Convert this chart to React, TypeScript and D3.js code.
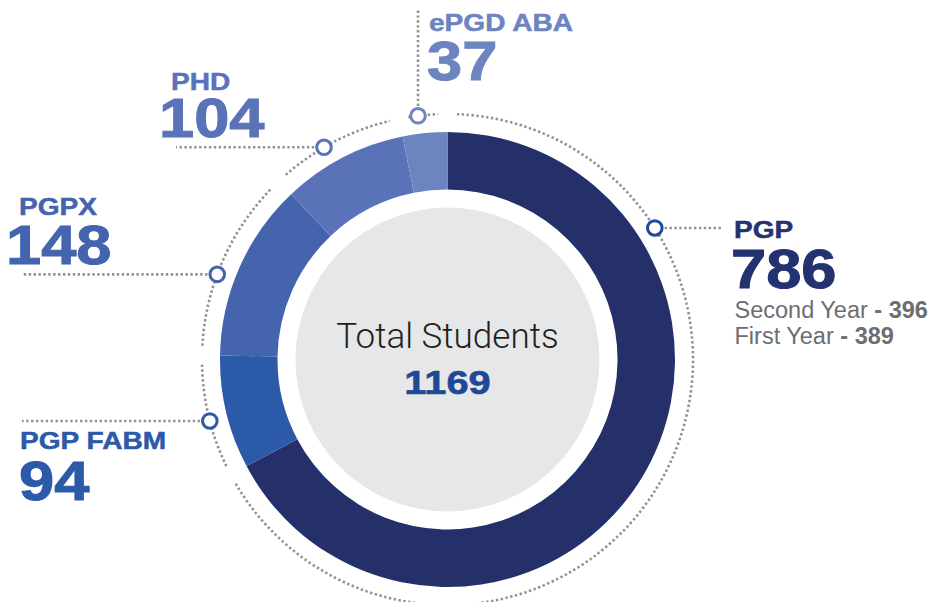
import React from "react";
import * as d3 from "d3";

// programme enrolment, in order round the ring clockwise from 12 o'clock
const categories = ["PGP", "PGP FABM", "PGPX", "PHD", "ePGD ABA"];
const students = [786, 94, 148, 104, 37];
const totalLabel = "Total Students";
const totalStudents = 1169;
const pgpYears = ["Second Year", "First Year"];
const pgpYearCounts = [396, 389];

const sliceColors = ["#25306b", "#2a5aa8", "#4464ae", "#5a73b8", "#6c84c0"];
const textColors = ["#243270", "#2b5aa8", "#4464ae", "#5a73b8", "#6c84c0"];
const markerColors = ["#1f4a95", "#2a5aa8", "#4464ae", "#5a73b8", "#6c84c0"];

// where each label sits, and where its marker sits on the dotted ring (deg, clockwise from top)
const labelPos = [
  { lx: 734, nx: 731, ly: 238, ny: 288, angle: 57.6, leadTo: 722, vertical: false },
  { lx: 20, nx: 19, ly: 449, ny: 500, angle: 255.5, leadTo: 22, vertical: false },
  { lx: 19, nx: 6, ly: 215, ny: 264, angle: 290.3, leadTo: 22, vertical: false },
  { lx: 171, nx: 159, ly: 90, ny: 137, angle: 329.8, leadTo: 176, vertical: false },
  { lx: 429, nx: 427, ly: 31, ny: 80, angle: 353.1, leadTo: 10, vertical: true },
];

const W = 934;
const H = 602;
const cx = 447.5;
const cy = 359.5;
const outerR = 227.5;
const innerR = 170;
const centerR = 152;
const ringR = 245.5;
const gapHalf = 2.2; // deg, gap in the dotted ring at each slice boundary

const boldFont = "'Liberation Sans', Arial, Helvetica, sans-serif";
const dotted = { stroke: "#929292", strokeWidth: 2.6, strokeDasharray: "2.4 2.5", fill: "none" };

const rad = (d: number) => (d * Math.PI) / 180;
const polar = (deg: number, r: number) => [cx + r * Math.sin(rad(deg)), cy - r * Math.cos(rad(deg))];

export default function App() {
  const pie = d3
    .pie<number>()
    .sort(null)
    .value((d) => d);
  const slices = pie(students);
  const arc = d3.arc<d3.PieArcDatum<number>>().innerRadius(innerR).outerRadius(outerR);

  // dotted ring broken at every slice boundary
  const boundaries = slices.map((s) => (s.endAngle * 180) / Math.PI);
  const ringPaths = boundaries.map((b, i) => {
    const prev = i === 0 ? 0 : boundaries[i - 1];
    const a0 = prev + gapHalf;
    const a1 = b - gapHalf;
    const p = d3.path();
    const [x0, y0] = polar(a0, ringR);
    p.moveTo(x0, y0);
    p.arc(cx, cy, ringR, rad(a0 - 90), rad(a1 - 90), false);
    return p.toString();
  });

  return (
    <svg width={W} height={H} style={{ position: "absolute", left: 0, top: 0, background: "#fff" }}>
      {ringPaths.map((d, i) => (
        <path key={"ring" + i} d={d} {...dotted} />
      ))}

      <g transform={`translate(${cx},${cy})`}>
        {slices.map((s, i) => (
          <path key={categories[i]} d={arc(s) || ""} fill={sliceColors[i]} />
        ))}
        <circle r={centerR} fill="#e6e7e8" />
      </g>

      <text
        x={cx}
        y={348}
        textAnchor="middle"
        fontFamily="Roboto, 'Liberation Sans', sans-serif"
        fontWeight={300}
        fontSize={35}
        fill="#231f20"
      >
        {totalLabel}
      </text>
      <text
        transform={`translate(${cx},394) scale(1.17,1)`}
        textAnchor="middle"
        fontFamily={boldFont}
        fontWeight="bold"
        fontSize={34}
        fill="#1e4996"
        stroke="#1e4996"
        strokeWidth={0.6}
      >
        {totalStudents}
      </text>

      {categories.map((c, i) => {
        const pos = labelPos[i];
        const [mx, my] = polar(pos.angle, ringR);
        return (
          <g key={"lab" + c}>
            {pos.vertical ? (
              <line x1={mx} y1={my} x2={mx} y2={pos.leadTo} {...dotted} />
            ) : (
              <line x1={mx} y1={my} x2={pos.leadTo} y2={my} {...dotted} />
            )}
            <circle cx={mx} cy={my} r={7.3} fill="#fff" stroke={markerColors[i]} strokeWidth={3} />
            <text
              transform={`translate(${pos.lx},${pos.ly}) scale(1.17,1)`}
              fontFamily={boldFont}
              fontWeight="bold"
              fontSize={24}
              fill={textColors[i]}
              stroke={textColors[i]}
              strokeWidth={0.5}
            >
              {c}
            </text>
            <text
              transform={`translate(${pos.nx},${pos.ny}) scale(1.15,1)`}
              fontFamily={boldFont}
              fontWeight="bold"
              fontSize={55}
              fill={textColors[i]}
              stroke={textColors[i]}
              strokeWidth={1}
            >
              {students[i]}
            </text>
          </g>
        );
      })}

      {pgpYears.map((y, i) => (
        <text
          key={y}
          x={734.5}
          y={318 + i * 26}
          fontFamily={boldFont}
          fontSize={23.5}
          fill="#6d6e71"
        >
          {y + " "}
          <tspan fontWeight="bold">{"- " + pgpYearCounts[i]}</tspan>
        </text>
      ))}
    </svg>
  );
}
